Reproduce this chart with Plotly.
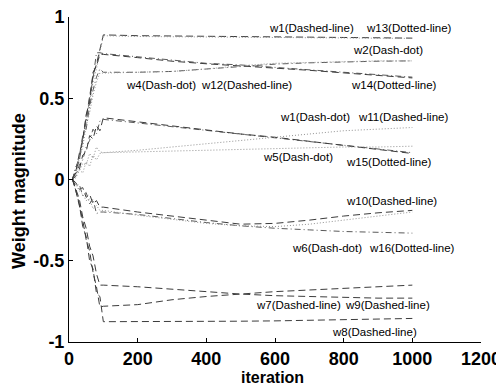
import plotly.graph_objects as go

# ---------------- data ----------------
iteration = [10, 20, 30, 40, 50, 60, 70, 80, 90, 100, 200, 300, 400, 500, 600, 700, 800, 900, 1000]

w1 = [0.00, 0.05, 0.12, 0.25, 0.38, 0.52, 0.64, 0.71, 0.80, 0.89, 0.885, 0.884, 0.882, 0.880, 0.878, 0.876, 0.874, 0.872, 0.870]
w13 = [0.01, 0.03, 0.15, 0.22, 0.36, 0.47, 0.60, 0.68, 0.79, 0.885, 0.880, 0.878, 0.876, 0.875, 0.874, 0.873, 0.871, 0.869, 0.868]
w2 = [0.00, 0.07, 0.14, 0.27, 0.35, 0.50, 0.62, 0.78, 0.78, 0.775, 0.755, 0.735, 0.715, 0.705, 0.690, 0.675, 0.660, 0.645, 0.630]
w12 = [-0.01, 0.05, 0.16, 0.24, 0.40, 0.47, 0.66, 0.70, 0.77, 0.770, 0.750, 0.728, 0.712, 0.700, 0.686, 0.672, 0.656, 0.640, 0.625]
w4 = [0.00, 0.08, 0.11, 0.26, 0.31, 0.45, 0.55, 0.63, 0.68, 0.660, 0.660, 0.665, 0.680, 0.695, 0.710, 0.718, 0.724, 0.728, 0.730]
w14 = [0.01, 0.04, 0.13, 0.20, 0.33, 0.41, 0.52, 0.60, 0.655, 0.655, 0.660, 0.665, 0.680, 0.700, 0.715, 0.720, 0.725, 0.730, 0.730]
w3 = [0.00, 0.02, 0.09, 0.12, 0.20, 0.24, 0.31, 0.28, 0.36, 0.370, 0.348, 0.325, 0.300, 0.276, 0.255, 0.232, 0.208, 0.185, 0.165]
w11 = [0.01, 0.04, 0.06, 0.15, 0.17, 0.27, 0.25, 0.33, 0.30, 0.380, 0.355, 0.330, 0.305, 0.280, 0.260, 0.235, 0.210, 0.185, 0.160]
w5 = [0.00, 0.03, 0.05, 0.10, 0.09, 0.16, 0.13, 0.20, 0.17, 0.165, 0.180, 0.200, 0.220, 0.240, 0.260, 0.280, 0.300, 0.310, 0.320]
w15 = [0.00, 0.01, 0.06, 0.04, 0.11, 0.08, 0.15, 0.12, 0.16, 0.165, 0.170, 0.175, 0.180, 0.185, 0.190, 0.195, 0.200, 0.200, 0.205]
w10 = [0.00, -0.02, -0.06, -0.05, -0.11, -0.09, -0.15, -0.13, -0.17, -0.170, -0.200, -0.225, -0.250, -0.275, -0.270, -0.250, -0.225, -0.205, -0.190]
w6 = [0.00, -0.04, -0.03, -0.10, -0.08, -0.15, -0.12, -0.21, -0.20, -0.200, -0.215, -0.240, -0.265, -0.285, -0.300, -0.310, -0.320, -0.325, -0.330]
w16 = [-0.01, -0.03, -0.07, -0.09, -0.13, -0.12, -0.18, -0.16, -0.19, -0.190, -0.220, -0.245, -0.270, -0.285, -0.290, -0.275, -0.250, -0.225, -0.200]
w7 = [0.00, -0.06, -0.12, -0.23, -0.30, -0.41, -0.47, -0.58, -0.65, -0.650, -0.660, -0.675, -0.690, -0.705, -0.715, -0.720, -0.725, -0.730, -0.730]
w9 = [0.00, -0.07, -0.16, -0.25, -0.37, -0.44, -0.57, -0.66, -0.785, -0.780, -0.770, -0.740, -0.720, -0.705, -0.690, -0.680, -0.670, -0.660, -0.650]
w8 = [0.01, -0.08, -0.15, -0.29, -0.35, -0.50, -0.55, -0.70, -0.72, -0.875, -0.875, -0.874, -0.873, -0.872, -0.870, -0.866, -0.860, -0.857, -0.855]

series = [
    ("w1", w1, "dash"), ("w13", w13, "dot"), ("w2", w2, "dashdot"), ("w12", w12, "dash"),
    ("w4", w4, "dashdot"), ("w14", w14, "dot"), ("w3", w3, "dashdot"), ("w11", w11, "dash"),
    ("w5", w5, "dot"), ("w15", w15, "dot"), ("w10", w10, "dash"), ("w6", w6, "dashdot"),
    ("w16", w16, "dot"), ("w7", w7, "dash"), ("w9", w9, "dash"), ("w8", w8, "dash"),
]

label_text = ["w1(Dashed-line)", "w13(Dotted-line)", "w2(Dash-dot)", "w4(Dash-dot)",
              "w12(Dashed-line)", "w14(Dotted-line)", "w1(Dash-dot)", "w11(Dashed-line)",
              "w5(Dash-dot)", "w15(Dotted-line)", "w10(Dashed-line)", "w6(Dash-dot)",
              "w16(Dotted-line)", "w7(Dashed-line)", "w9(Dashed-line)", "w8(Dashed-line)"]
label_x = [705, 990, 930, 268, 516, 948, 717, 974, 668, 933, 940, 752, 1000, 667, 929, 889]
label_y = [0.932, 0.932, 0.797, 0.58, 0.58, 0.58, 0.385, 0.385, 0.14, 0.108, -0.13, -0.42, -0.42, -0.77, -0.77, -0.94]

x_ticks = [0, 200, 400, 600, 800, 1000, 1200]
y_ticks = [-1, -0.5, 0, 0.5, 1]
y_ticktext = ["-1", "-0.5", "0", "0.5", "1"]
x_title = "iteration"
y_title = "Weight magnitude"

# ---------------- style ----------------
styles = {
    "dash": dict(color="#3c3c3c", dash="7px,4px"),
    "dashdot": dict(color="#5a5a5a", dash="6px,3px,1px,3px"),
    "dot": dict(color="#929292", dash="1px,2px"),
}

FONT = "Liberation Sans, Arial, sans-serif"

fig = go.Figure()
for name, vals, st in series:
    s = styles[st]
    fig.add_trace(go.Scatter(x=iteration, y=vals, mode="lines", name=name,
                             line=dict(color=s["color"], width=1, dash=s["dash"]),
                             showlegend=False))

for t, x, y in zip(label_text, label_x, label_y):
    fig.add_annotation(x=x, y=y, text=t, showarrow=False, xanchor="center", yanchor="middle",
                       font=dict(family=FONT, size=11.5, color="#000000"))

# axis titles
fig.add_annotation(xref="paper", yref="paper", x=0.495, y=0, yshift=-35, text=x_title,
                   showarrow=False, xanchor="center", yanchor="middle",
                   font=dict(family=FONT, size=16, color="black", weight="bold"))
fig.add_annotation(xref="paper", yref="paper", x=0, xshift=-50, y=0.465, text=y_title,
                   textangle=-90, showarrow=False, xanchor="center", yanchor="middle",
                   font=dict(family=FONT, size=18, color="black", weight="bold"))

# page body has an 8px default margin, so the figure is offset by (8, 8)
fig.update_layout(
    width=504, height=388,
    margin=dict(l=61, r=31, t=9, b=54, autoexpand=False),
    paper_bgcolor="white", plot_bgcolor="white",
    showlegend=False,
)
fig.update_xaxes(
    range=[0, 1200], tickvals=x_ticks, ticks="inside", ticklen=4, tickcolor="black",
    showline=True, linecolor="black", linewidth=1, mirror=False, showgrid=False, zeroline=False,
    automargin=False, ticklabeloverflow="allow",
    tickfont=dict(family=FONT, size=18, color="black", weight="bold"),
)
fig.update_yaxes(
    range=[-1, 1], tickvals=y_ticks, ticktext=y_ticktext, ticks="inside", ticklen=4, tickcolor="black",
    showline=True, linecolor="black", linewidth=1, mirror=False, showgrid=False, zeroline=False,
    automargin=False, ticklabeloverflow="allow",
    tickfont=dict(family=FONT, size=18, color="black", weight="bold"),
)

fig.write_html("out.html")
